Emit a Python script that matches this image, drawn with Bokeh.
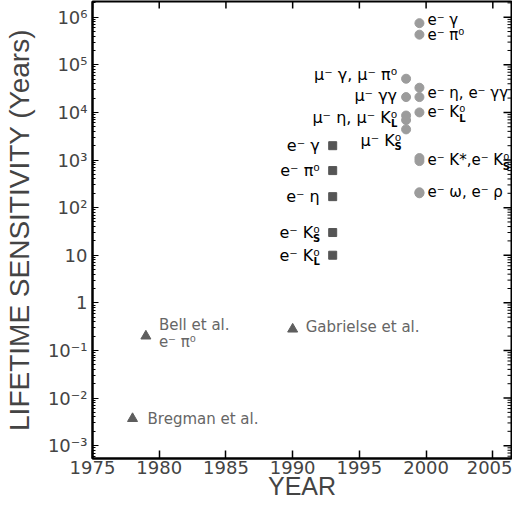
import math
from bokeh.plotting import figure
from bokeh.models import ColumnDataSource, FixedTicker, Range1d
from bokeh.core.properties import value
from bokeh.embed import file_html
from bokeh.resources import INLINE

# ---------------- data ----------------
year_ticks = [1975, 1980, 1985, 1990, 1995, 2000, 2005]
life_ticks = [1e-3, 1e-2, 1e-1, 1, 10, 100, 1e3, 1e4, 1e5, 1e6]
life_tick_labels = ["10⁻³", "10⁻²", "10⁻¹", "1", "10", "10²", "10³", "10⁴", "10⁵", "10⁶"]

# early experiments (triangles)
tri_year = [1978, 1979, 1990]
tri_life = [0.0037, 0.2, 0.28]
tri_label = ["Bregman et al.", "Bell et al.", "Gabrielse et al."]
bell_mode = "e⁻ π⁰"

# 1993 results (squares)
sq_year = [1993, 1993, 1993, 1993, 1993]
sq_life = [2000, 600, 170, 30, 10]
sq_label = ["e⁻ γ", "e⁻ π⁰", "e⁻ η", "e⁻ K⁰", "e⁻ K⁰"]
sq_sub = ["", "", "", "S", "L"]

# muon channels (circles, ~1998.5)
mu_year = [1998.5, 1998.5, 1998.5, 1998.5, 1998.5]
mu_life = [5.1e4, 2.1e4, 8.6e3, 6.9e3, 4.4e3]
mu_label = ["μ⁻ γ, μ⁻ π⁰", "μ⁻ γγ", "μ⁻ η, μ⁻ K⁰", "μ⁻ K⁰"]
mu_label_life = [5.1e4, 2.1e4, 8.6e3, 4.4e3]
mu_sub = ["", "", "L", "S"]

# electron channels (circles, ~1999.5)
el_year = [1999.5] * 9
el_life = [7.5e5, 4.3e5, 3.3e4, 2.1e4, 1.0e4, 1.1e3, 9.5e2, 210, 200]
el_label = ["e⁻ γ", "e⁻ π⁰", "e⁻ η, e⁻ γγ", "e⁻ K⁰", "e⁻ K*,e⁻ K⁰", "e⁻ ω,  e⁻ ρ"]
el_label_life = [7.5e5, 4.3e5, 3.3e4, 1.0e4, 1.1e3, 210]
el_sub = ["", "", "", "L", "S", ""]

# ---------------- figure ----------------
FONT = "DejaVu Sans"
X0, X1 = 1975, 2006.4
Y0, Y1 = 10 ** -3.27, 10 ** 6.33
p = figure(width=512, height=504,
           x_range=Range1d(X0, X1), y_range=Range1d(Y0, Y1),
           y_axis_type="log",
           output_backend="svg", toolbar_location=None,
           min_border_left=88, min_border_right=1,
           min_border_top=1, min_border_bottom=46)
p.xgrid.visible = False
p.ygrid.visible = False
p.outline_line_color = "black"
p.outline_line_width = 2
p.background_fill_color = "white"
p.border_fill_color = "white"

minor = [m * 10.0 ** k for k in range(-4, 7) for m in range(2, 10)]
yt = FixedTicker(ticks=life_ticks, minor_ticks=minor)
xt = FixedTicker(ticks=year_ticks)

xa = p.xaxis[0]
xa.ticker = xt
xa.axis_label = "YEAR"
xa.axis_label_text_font = "Liberation Sans"
xa.axis_label_text_font_style = "normal"
xa.axis_label_text_font_size = "25px"
xa.axis_label_standoff = -5
xa.major_label_text_font = FONT
xa.major_label_text_font_size = "18px"
xa.major_label_standoff = 2
xa.major_tick_in = 8
xa.major_tick_out = 0
xa.minor_tick_line_color = None
xa.axis_line_width = 2
xa.major_tick_line_width = 1.5

ya = p.yaxis[0]
ya.ticker = yt
ya.major_label_overrides = dict(zip(life_ticks, life_tick_labels))
ya.axis_label = "LIFETIME SENSITIVITY (Years)"
ya.axis_label_text_font = "Liberation Sans"
ya.axis_label_text_font_style = "normal"
ya.axis_label_text_font_size = "28px"
ya.axis_label_standoff = 10
ya.major_label_text_font = FONT
ya.major_label_text_font_size = "18px"
ya.major_label_standoff = 5
ya.major_tick_in = 6
ya.major_tick_out = 0
ya.minor_tick_in = 3
ya.minor_tick_out = 0
ya.axis_line_width = 2

# inward ticks on the right and top edges (half of each dash is clipped by the frame)
p.scatter([X1] * len(life_ticks), life_ticks, marker="dash", size=16,
          line_color="black", line_width=1.5)
p.scatter([X1] * len(minor), minor, marker="dash", size=8,
          line_color="black", line_width=1)
p.scatter(year_ticks, [Y1] * len(year_ticks), marker="dash", size=14, angle=math.pi / 2,
          line_color="black", line_width=1.5)

# ---------------- markers ----------------
p.scatter(tri_year, tri_life, marker="triangle", size=10, color="#5e5e5e")
p.scatter(sq_year, sq_life, marker="square", size=8, color="#555555")
p.scatter(mu_year, mu_life, marker="circle", size=9, color="#9c9c9c")
p.scatter(el_year, el_life, marker="circle", size=9, color="#9c9c9c")

# ---------------- labels ----------------
def txt(src, color="black", size="16px", align="left", style="normal"):
    p.text(x="x", y="y", text="t", x_offset="dx", y_offset="dy", source=src,
           text_font=value(FONT), text_font_size=value(size), text_color=color,
           text_align=align, text_baseline="middle", text_font_style=style)

# gray literature labels
gray = ColumnDataSource(dict(
    x=tri_year + [tri_year[1]],
    y=tri_life + [tri_life[1]],
    t=tri_label + [bell_mode],
    dx=[15, 13, 13, 13],
    dy=[0, -11, -2, 6]))
txt(gray, color="#666666", size="15px")

# square labels (right aligned)
sqs = ColumnDataSource(dict(x=sq_year, y=sq_life, t=sq_label,
                            dx=[-13] * 5, dy=[0] * 5))
txt(sqs, align="right")
sq_sub_src = ColumnDataSource(dict(x=sq_year, y=sq_life, t=sq_sub,
                                   dx=[-16] * 5, dy=[6] * 5))
txt(sq_sub_src, align="center", size="10px", style="bold")

# muon labels (right aligned)
mus = ColumnDataSource(dict(x=mu_year[:4], y=mu_label_life, t=mu_label,
                            dx=[-9, -9, -9, -5], dy=[-4, -2, 2, 11]))
txt(mus, align="right")
mu_sub_src = ColumnDataSource(dict(x=mu_year[:4], y=mu_label_life, t=mu_sub,
                                   dx=[-12, -12, -12, -8], dy=[2, 4, 8, 17]))
txt(mu_sub_src, align="center", size="10px", style="bold")

# electron labels (left aligned)
els = ColumnDataSource(dict(x=el_year[:6], y=el_label_life, t=el_label,
                            dx=[8] * 6, dy=[-3, 0, 5, 0, 2, 0]))
txt(els, size="15px")
el_sub_src = ColumnDataSource(dict(x=el_year[:6], y=el_label_life, t=el_sub,
                                   dx=[0, 0, 0, 43, 87, 0], dy=[3, 6, 11, 6, 8, 6]))
txt(el_sub_src, align="center", size="10px", style="bold")

open("out.html", "w").write(file_html(p, INLINE))
